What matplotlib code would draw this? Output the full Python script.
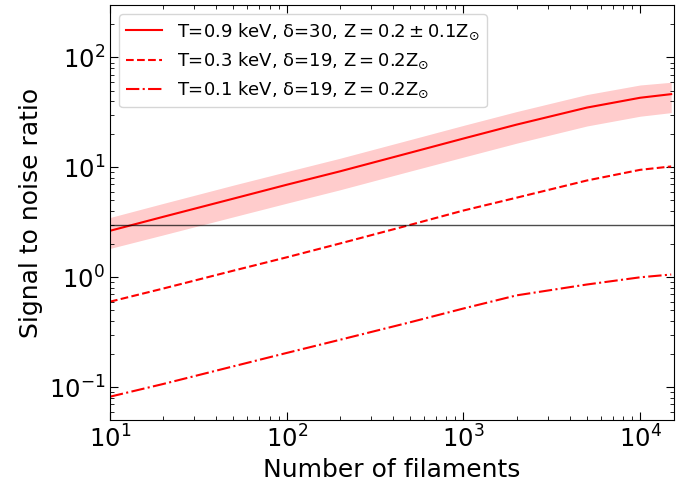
import matplotlib
matplotlib.use("Agg")
import matplotlib.pyplot as plt
import numpy as np

plt.rcParams["mathtext.default"] = "regular"

# Number of stacked filaments
n_fil = np.array([10, 20, 50, 100, 200, 500, 1000, 2000, 5000, 10000, 15000])

# S/N for the hot model, with the metallicity range as a band
snr_hot = np.array([2.65, 3.55, 5.2, 6.95, 9.2, 13.6, 18.3, 24.5, 35.0, 43.0, 46.4])
snr_hot_hi = np.array([3.5, 4.7, 6.9, 9.15, 12.1, 17.9, 24.1, 32.2, 46.0, 56.2, 59.5])
snr_hot_lo = np.array([1.83, 2.43, 3.55, 4.72, 6.25, 9.25, 12.4, 16.6, 23.8, 29.2, 31.5])

# S/N for the warm and cool models
snr_warm = np.array([0.60, 0.79, 1.15, 1.52, 2.03, 3.0, 4.05, 5.3, 7.6, 9.5, 10.2])
snr_cool = np.array([0.082, 0.107, 0.155, 0.205, 0.27, 0.39, 0.52, 0.685, 0.86, 1.0, 1.06])

detect_level = 3

labels = [
    r"T=0.9 keV, δ=30, $Z = 0.2 \pm 0.1 Z_{\odot}$",
    r"T=0.3 keV, δ=19, $Z = 0.2 Z_{\odot}$",
    r"T=0.1 keV, δ=19, $Z = 0.2 Z_{\odot}$",
]

fig = plt.figure(figsize=(6.96, 4.84), dpi=100)
ax = fig.add_axes([0.158, 0.1316, 0.81, 0.858])

ax.fill_between(n_fil, snr_hot_lo, snr_hot_hi, color="red", alpha=0.2, linewidth=0)
ax.plot(n_fil, snr_hot, color="red", lw=1.5, ls="-", label=labels[0])
ax.plot(n_fil, snr_warm, color="red", lw=1.5, ls="--", label=labels[1])
ax.plot(n_fil, snr_cool, color="red", lw=1.5, ls="-.", label=labels[2])
ax.axhline(detect_level, color="k", lw=1, alpha=0.7)

ax.set_xscale("log")
ax.set_yscale("log")
ax.set_xlim(10, 1.55e4)
ax.set_ylim(0.05, 300)

ax.set_xlabel("Number of filaments", fontsize=18)
ax.set_ylabel("Signal to noise ratio", fontsize=18)
ax.tick_params(which="both", direction="in", top=True, right=True, labelsize=17.5)
ax.tick_params(which="major", length=6)
ax.tick_params(which="minor", length=3)

ax.legend(loc="upper left", fontsize=13)

fig.savefig("out.png", dpi=100)
